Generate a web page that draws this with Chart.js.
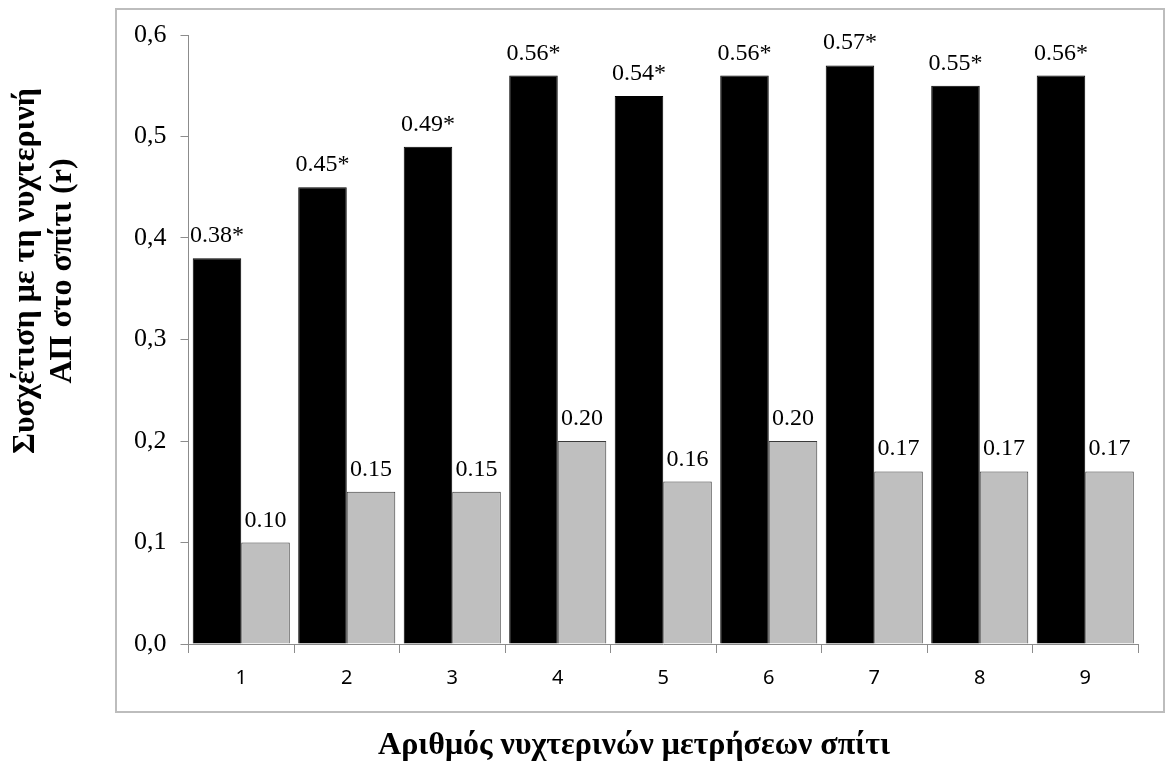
<!DOCTYPE html>
<html>
<head>
<meta charset="utf-8">
<script src="https://cdn.jsdelivr.net/npm/chart.js@4/dist/chart.umd.min.js"></script>
<style>
  body { margin: 0; background: #fff; }
  #wrap { width: 1168px; height: 770px; }
</style>
</head>
<body>
<div id="wrap"><canvas id="chart"></canvas></div>
<script>
const categories = ['1', '2', '3', '4', '5', '6', '7', '8', '9'];
const blackValues = [0.38, 0.45, 0.49, 0.56, 0.54, 0.56, 0.57, 0.55, 0.56];
const grayValues = [0.10, 0.15, 0.15, 0.20, 0.16, 0.20, 0.17, 0.17, 0.17];
const yTicks = [0, 0.1, 0.2, 0.3, 0.4, 0.5, 0.6];
const xTitle = 'Αριθμός νυχτερινών μετρήσεων σπίτι';
const yTitle = ['Συσχέτιση με τη νυχτερινή', 'ΑΠ στο σπίτι (r)'];

const serif = '"Liberation Serif", "DejaVu Serif", serif';

// frame around the plot, like the original
const framePlugin = {
    id: 'frame',
    beforeDraw(chart) {
        const ctx = chart.ctx;
        ctx.save();
        ctx.strokeStyle = '#bdbdbd';
        ctx.lineWidth = 2;
        ctx.strokeRect(116, 9, 1048, 703);
        ctx.restore();
    }
};

// axis titles sit outside the frame, not centred on the plot
const titlesPlugin = {
    id: 'axisTitles',
    afterDraw(chart) {
        const ctx = chart.ctx;
        ctx.save();
        ctx.fillStyle = '#000';
        ctx.font = 'bold 32px ' + serif;
        ctx.textAlign = 'center';
        ctx.textBaseline = 'middle';
        ctx.fillText(xTitle, 634, 746);
        ctx.translate(0, 271);
        ctx.rotate(-Math.PI / 2);
        ctx.fillText(yTitle[0], 0, 26);
        ctx.fillText(yTitle[1], 0, 63);
        ctx.restore();
    }
};

// value labels above the bars
const labelPlugin = {
    id: 'valueLabels',
    afterDatasetsDraw(chart) {
        const ctx = chart.ctx;
        ctx.save();
        ctx.font = '24px ' + serif;
        ctx.fillStyle = '#000';
        ctx.textAlign = 'center';
        ctx.textBaseline = 'alphabetic';
        chart.data.datasets.forEach((ds, i) => {
            chart.getDatasetMeta(i).data.forEach((bar, j) => {
                let txt = ds.data[j].toFixed(2);
                if (i === 0) txt += '*';
                ctx.fillText(txt, bar.x, bar.y - 16);
            });
        });
        ctx.restore();
    }
};

new Chart(document.getElementById('chart'), {
    type: 'bar',
    data: {
        labels: categories,
        datasets: [
            {
                label: 'A',
                data: blackValues,
                backgroundColor: '#000000',
                borderColor: '#000000',
                borderWidth: 1
            },
            {
                label: 'B',
                data: grayValues,
                backgroundColor: '#bfbfbf',
                borderColor: '#3a3a3a',
                borderWidth: 1
            }
        ]
    },
    options: {
        responsive: true,
        maintainAspectRatio: false,
        animation: false,
        layout: { padding: { top: 35, right: 30, left: 120, bottom: 67 } },
        plugins: {
            legend: { display: false },
            tooltip: { enabled: false }
        },
        datasets: {
            bar: { categoryPercentage: 0.92, barPercentage: 1.0 }
        },
        scales: {
            x: {
                grid: { drawOnChartArea: false, tickLength: 9, color: '#8c8c8c' },
                border: { color: '#8c8c8c', width: 1 },
                ticks: {
                    color: '#000',
                    padding: 13,
                    font: { family: '"Noto Sans", "DejaVu Sans", sans-serif', size: 20 }
                }
            },
            y: {
                min: 0,
                max: 0.6,
                afterBuildTicks(scale) {
                    scale.ticks = yTicks.map(v => ({ value: v }));
                },
                grid: { drawOnChartArea: false, tickLength: 8, color: '#8c8c8c' },
                border: { color: '#8c8c8c', width: 1 },
                ticks: {
                    color: '#000',
                    padding: 14,
                    font: { family: serif, size: 26 },
                    callback: v => v.toFixed(1).replace('.', ',')
                }
            }
        }
    },
    plugins: [framePlugin, labelPlugin, titlesPlugin]
});
</script>
</body>
</html>
